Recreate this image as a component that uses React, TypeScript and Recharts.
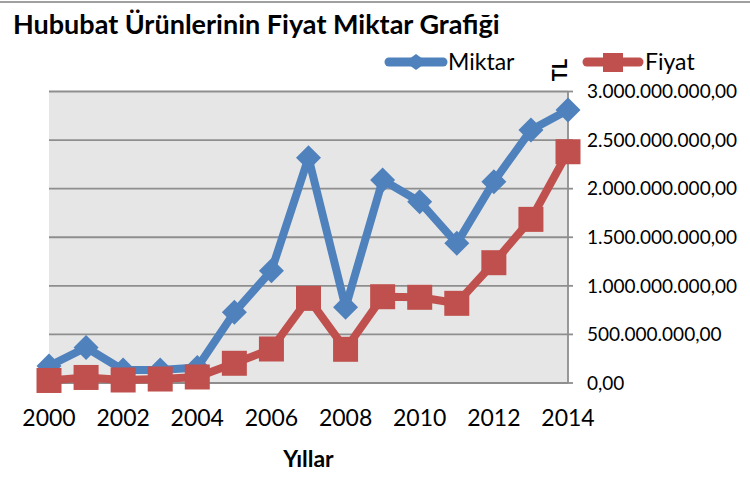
import React from "react";
import { LineChart, Line, XAxis, YAxis, CartesianGrid } from "recharts";

const years = [2000, 2001, 2002, 2003, 2004, 2005, 2006, 2007, 2008, 2009, 2010, 2011, 2012, 2013, 2014];
const miktar = [175, 365, 134, 134, 160, 727, 1156, 2318, 779, 2089, 1866, 1437, 2072, 2603, 2809].map((v) => v * 1e6);
const fiyat = [26, 57, 31, 41, 62, 203, 350, 871, 347, 888, 882, 820, 1238, 1684, 2380].map((v) => v * 1e6);
const xTicks = [2000, 2002, 2004, 2006, 2008, 2010, 2012, 2014];
const yTicks = [0, 500000000, 1000000000, 1500000000, 2000000000, 2500000000, 3000000000];

const data = years.map((y, i) => ({ year: y, Miktar: miktar[i], Fiyat: fiyat[i] }));

const BLUE = "#4F81BD";
const RED = "#C0504D";
const FONT = "Lato, 'Open Sans', sans-serif";

const fmt = (n: number) => {
  const s = Math.round(n).toString().replace(/\B(?=(\d{3})+(?!\d))/g, ".");
  return s + ",00";
};

const Diamond = (props: any) => {
  const { cx, cy, index } = props;
  if (cx == null || cy == null) return <g key={"d" + index} />;
  const r = 12.5;
  return (
    <path
      key={"d" + index}
      d={`M${cx},${cy - r}L${cx + r},${cy}L${cx},${cy + r}L${cx - r},${cy}Z`}
      fill={BLUE}
    />
  );
};

const Square = (props: any) => {
  const { cx, cy, index } = props;
  if (cx == null || cy == null) return <g key={"s" + index} />;
  const r = 12.5;
  return <rect key={"s" + index} x={cx - r} y={cy - r} width={2 * r} height={2 * r} fill={RED} />;
};

export default function App() {
  return (
    <div style={{ position: "absolute", left: 0, top: 0, width: 750, height: 479, background: "#fff" }}>
      <LineChart
        width={750}
        height={479}
        data={data}
        margin={{ top: 91.5, right: 0, bottom: 0, left: 49 }}
      >
        <CartesianGrid vertical={false} stroke="#8E8E8E" strokeWidth={1.8} fill="#E6E6E6" fillOpacity={1} />
        <XAxis
          dataKey="year"
          type="number"
          domain={[2000, 2014]}
          ticks={xTicks}
          axisLine={false}
          tickLine={false}
          tickSize={0}
          tickMargin={27}
          height={96}
          tick={{ fontSize: 23, fill: "#000", fontFamily: FONT }}
          label={{ value: "Yıllar", position: "insideBottom", offset: 12, fontSize: 23, fontWeight: 700, fill: "#000", fontFamily: FONT }}
        />
        <YAxis
          orientation="right"
          domain={[0, 3000000000]}
          ticks={yTicks}
          width={182}
          tickFormatter={fmt}
          axisLine={{ stroke: "#8E8E8E", strokeWidth: 1.8 }}
          tickLine={{ stroke: "#8E8E8E", strokeWidth: 1.8 }}
          tickSize={5}
          tickMargin={14}
          tick={{ fontSize: 19, fill: "#000", fontFamily: FONT }}
        />
        <Line
          dataKey="Miktar"
          stroke={BLUE}
          strokeWidth={8}
          strokeLinejoin="round"
          dot={Diamond}
          activeDot={false}
          isAnimationActive={false}
        />
        <Line
          dataKey="Fiyat"
          stroke={RED}
          strokeWidth={8}
          strokeLinejoin="round"
          dot={Square}
          activeDot={false}
          isAnimationActive={false}
        />
      </LineChart>
      <svg
        width={750}
        height={479}
        style={{ position: "absolute", left: 0, top: 0, pointerEvents: "none" }}
        fontFamily={FONT}
      >
        <line x1={0} y1={2} x2={750} y2={2} stroke="#A0A0A0" strokeWidth={2} />
        <text x={13} y={34} fontSize={27} fontWeight={700} fill="#000">
          Hububat Ürünlerinin Fiyat Miktar Grafiği
        </text>
        <line x1={389} y1={62} x2={443} y2={62} stroke={BLUE} strokeWidth={9} strokeLinecap="round" />
        <path d="M416,54L427,62L416,70L405,62Z" fill={BLUE} />
        <text x={448} y={70} fontSize={23} fill="#000">Miktar</text>
        <g transform="translate(567,70) rotate(-90)">
          <text x={0} y={0} textAnchor="middle" fontSize={20} fontWeight={700} fill="#000">TL</text>
        </g>
        <line x1={587} y1={62} x2={639} y2={62} stroke={RED} strokeWidth={9} strokeLinecap="round" />
        <rect x={603} y={53} width={20} height={19} fill={RED} />
        <text x={645} y={70} fontSize={23} fill="#000">Fiyat</text>
      </svg>
    </div>
  );
}
